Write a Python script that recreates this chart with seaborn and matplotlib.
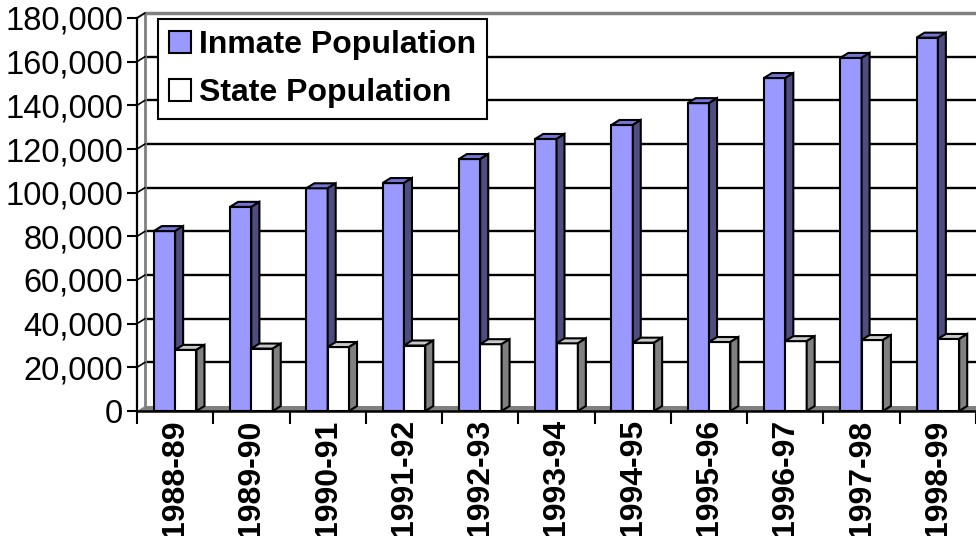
import matplotlib
matplotlib.use("Agg")
import matplotlib.pyplot as plt
import matplotlib.patches as mpatches
from matplotlib.ticker import FuncFormatter, FixedLocator
import numpy as np
import pandas as pd
import seaborn as sns

# ---- data ----
years = ["1988-89", "1989-90", "1990-91", "1991-92", "1992-93", "1993-94",
         "1994-95", "1995-96", "1996-97", "1997-98", "1998-99"]
inmate = [82400, 93500, 102000, 104400, 115400, 124600,
          131000, 141000, 152500, 161700, 171000]
state = [28000, 28600, 29300, 30000, 30600, 31000,
         31300, 31600, 32000, 32500, 33000]
series_names = ["Inmate Population", "State Population"]
yticks = [0, 20000, 40000, 60000, 80000, 100000, 120000, 140000, 160000, 180000]

df = pd.DataFrame({
    "Year": years * 2,
    "Population": inmate + state,
    "Series": [series_names[0]] * len(years) + [series_names[1]] * len(years),
})

sns.set_style("white")
plt.rcParams["font.family"] = ["Liberation Sans", "DejaVu Sans"]
plt.rcParams["text.color"] = "black"
plt.rcParams["xtick.color"] = "black"
plt.rcParams["ytick.color"] = "black"
plt.rcParams["xtick.labelcolor"] = "black"
plt.rcParams["ytick.labelcolor"] = "black"

fig = plt.figure(figsize=(9.76, 5.36), dpi=100)
ax = fig.add_axes([137 / 976, 1 - 411 / 536, (976 - 137) / 976, (411 - 13) / 536])

front = {series_names[0]: "#9999FF", series_names[1]: "#FFFFFF"}
topc = {series_names[0]: "#7575D6", series_names[1]: "#C8C8C8"}
sidec = {series_names[0]: "#4D4D80", series_names[1]: "#808080"}

sns.barplot(data=df, x="Year", y="Population", hue="Series", palette=front,
            width=0.56, edgecolor="black", linewidth=1.5, saturation=1,
            legend=False, ax=ax, zorder=3)

ymax = yticks[-1]
px_per_unit = 393 / ymax
dy = 5 / px_per_unit          # depth in value units
dx = 8 / ((976 - 137) / len(years))  # depth in category units
x_left = -0.5
x_right = len(years) - 0.5

ax.set_xlim(x_left, x_right)
ax.set_ylim(0, ymax + dy)

# 3D faces for bars
for k, cont in enumerate(ax.containers):
    name = series_names[k]
    z = 3 + k
    for rect in cont:
        rect.set_zorder(z)
        x0, w, h = rect.get_x(), rect.get_width(), rect.get_height()
        top = mpatches.Polygon([(x0, h), (x0 + w, h), (x0 + w + dx, h + dy), (x0 + dx, h + dy)],
                               closed=True, facecolor=topc[name], edgecolor="black",
                               linewidth=1.5, zorder=z, joinstyle="miter")
        side = mpatches.Polygon([(x0 + w, 0), (x0 + w + dx, dy), (x0 + w + dx, h + dy), (x0 + w, h)],
                                closed=True, facecolor=sidec[name], edgecolor="black",
                                linewidth=1.5, zorder=z, joinstyle="miter")
        ax.add_patch(top)
        ax.add_patch(side)

# back wall gridlines
for v in yticks[1:]:
    ax.plot([x_left + dx, x_right + 1], [v + dy, v + dy], color="black", lw=1.7, zorder=1,
            solid_capstyle="butt")
    ax.plot([x_left, x_left + dx], [v, v + dy], color="black", lw=1.2, zorder=2, clip_on=False)
# wall edges
ax.plot([x_left + dx, x_left + dx], [dy, ymax + dy], color="#808080", lw=2, zorder=1.5, clip_on=False)
ax.plot([x_left + dx, x_right + 1], [ymax + dy, ymax + dy], color="#808080", lw=2.5, zorder=1.5, clip_on=False)
ax.plot([x_left, x_left + dx], [ymax, ymax + dy], color="#808080", lw=1.5, zorder=1.5, clip_on=False)
# floor
floor = mpatches.Polygon([(x_left, 0), (x_right + 1, 0), (x_right + 1, dy), (x_left + dx, dy)],
                         closed=True, facecolor="#808080", edgecolor="none", zorder=1.8)
ax.add_patch(floor)

# spines
for s in ["top", "right"]:
    ax.spines[s].set_visible(False)
ax.spines["left"].set_bounds(0, ymax)
ax.spines["left"].set_color("black")
ax.spines["left"].set_linewidth(1.6)
ax.spines["bottom"].set_color("black")
ax.spines["bottom"].set_linewidth(1.8)
ax.spines["bottom"].set_zorder(6)

ax.set_yticks(yticks)
ax.yaxis.set_major_formatter(FuncFormatter(lambda v, p: f"{int(v):,}"))
ax.tick_params(axis="y", direction="out", length=7, width=1.5, color="black",
               labelsize=23.5, labelcolor="black", pad=3, left=True)
ax.set_xticks(range(len(years)))
ax.set_xticklabels(years, rotation=90, fontweight="bold", fontsize=23, color="black")
ax.xaxis.set_minor_locator(FixedLocator(np.arange(len(years) + 1) - 0.5))
ax.tick_params(axis="x", which="major", length=0, pad=6)
ax.tick_params(axis="x", which="minor", direction="out", length=9, width=1.5,
               color="black", bottom=True)
ax.set_xlabel("")
ax.set_ylabel("")
ax.grid(False)

handles = [mpatches.Patch(facecolor=front[n], edgecolor="black", linewidth=1.5) for n in series_names]
leg = fig.legend(handles, series_names, loc="upper left",
                 bbox_to_anchor=(158 / 976, 1 - 19 / 536), frameon=True, fancybox=False,
                 prop={"weight": "bold", "size": 23}, handlelength=0.68, handleheight=0.68,
                 handletextpad=0.25, labelspacing=0.55, borderpad=0.35, borderaxespad=0)
leg.get_frame().set_edgecolor("black")
leg.get_frame().set_linewidth(1.5)
leg.get_frame().set_facecolor("white")
leg.get_frame().set_alpha(1)
leg.set_zorder(10)
for t in leg.get_texts():
    t.set_color("black")

fig.savefig("out.png", dpi=100)
